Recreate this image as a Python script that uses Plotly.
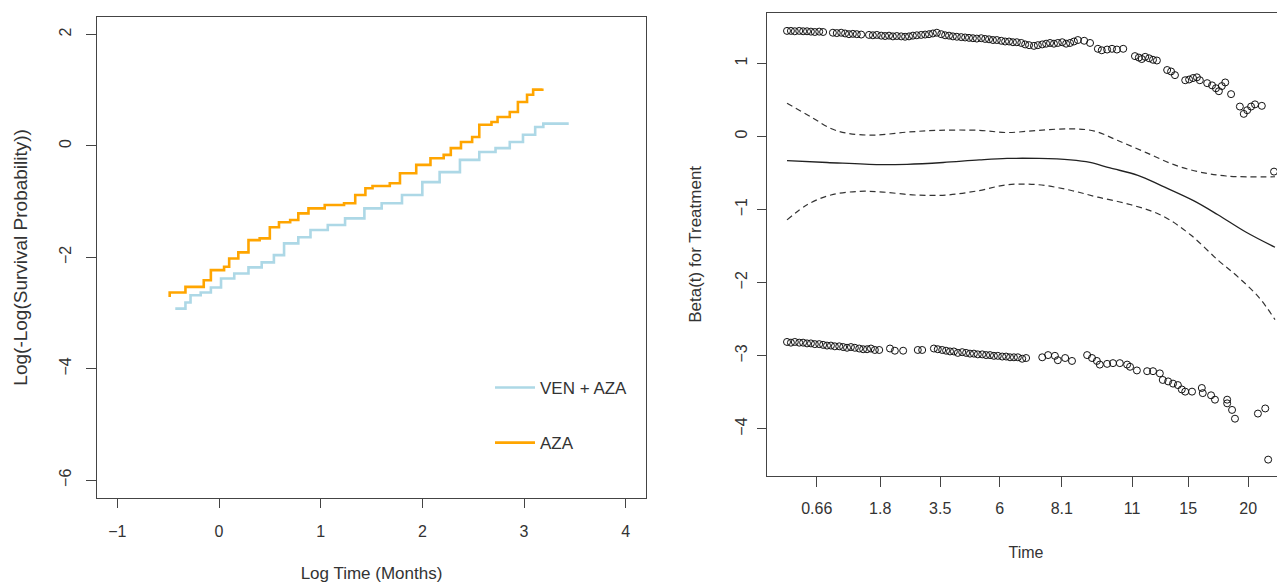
import plotly.graph_objects as go

# ---------------- Left panel: log(-log(S)) vs log time ----------------
ven_logt = [-0.43, -0.33, -0.28, -0.18, -0.08, 0.02, 0.15, 0.29, 0.42, 0.54, 0.64, 0.78, 0.90,
            1.07, 1.24, 1.43, 1.60, 1.80, 2.00, 2.17, 2.37, 2.56, 2.72, 2.86, 2.99, 3.11, 3.19, 3.44]
ven_loglog = [-2.92, -2.81, -2.68, -2.63, -2.54, -2.38, -2.29, -2.18, -2.09, -1.96, -1.75, -1.64, -1.51,
              -1.42, -1.30, -1.12, -1.03, -0.88, -0.65, -0.47, -0.25, -0.11, -0.04, 0.07, 0.20, 0.34, 0.40, 0.40]

aza_logt = [-0.485, -0.485, -0.33, -0.15, -0.08, 0.05, 0.10, 0.19, 0.29, 0.40, 0.50, 0.59, 0.70, 0.78,
            0.88, 1.04, 1.23, 1.34, 1.44, 1.51, 1.68, 1.78, 1.94, 2.08, 2.21, 2.28, 2.38, 2.49, 2.56,
            2.68, 2.74, 2.86, 2.94, 3.03, 3.09, 3.18]
aza_loglog = [-2.71, -2.63, -2.53, -2.41, -2.23, -2.17, -2.02, -1.91, -1.69, -1.66, -1.46, -1.37, -1.33, -1.21,
              -1.12, -1.06, -1.03, -0.88, -0.76, -0.72, -0.67, -0.49, -0.34, -0.22, -0.16, -0.04, 0.07, 0.16, 0.38,
              0.43, 0.52, 0.61, 0.79, 0.92, 1.01, 1.03]

left_xticks = [-1, 0, 1, 2, 3, 4]
left_yticks = [-6, -4, -2, 0, 2]

# ---------------- Right panel: Schoenfeld residuals (transformed time) ----------------
time_tick_pos = [0.061, 0.191, 0.314, 0.436, 0.563, 0.707, 0.822, 0.945]
time_tick_lab = ["0.66", "1.8", "3.5", "6", "8.1", "11", "15", "20"]
right_yticks = [-4, -3, -2, -1, 0, 1]

fit_t = [0.0, 0.082, 0.189, 0.246, 0.320, 0.394, 0.451, 0.516, 0.581, 0.621, 0.662, 0.719, 0.768,
         0.834, 0.883, 0.941, 1.0]
fit_beta = [-0.33, -0.355, -0.385, -0.38, -0.355, -0.32, -0.30, -0.30, -0.32, -0.355, -0.43, -0.53, -0.675,
            -0.88, -1.07, -1.31, -1.515]

up_t = [0.0, 0.050, 0.090, 0.123, 0.180, 0.246, 0.311, 0.393, 0.451, 0.516, 0.581, 0.630, 0.678,
        0.736, 0.793, 0.842, 0.900, 1.0]
up_beta = [0.455, 0.265, 0.11, 0.045, 0.02, 0.06, 0.085, 0.085, 0.055, 0.085, 0.105, 0.075, -0.055,
           -0.22, -0.385, -0.48, -0.54, -0.55]

lo_t = [0.0, 0.042, 0.090, 0.148, 0.197, 0.262, 0.328, 0.393, 0.451, 0.516, 0.581, 0.637, 0.703,
        0.768, 0.826, 0.883, 0.924, 0.967, 1.0]
lo_beta = [-1.14, -0.93, -0.80, -0.75, -0.76, -0.80, -0.80, -0.74, -0.66, -0.66, -0.735, -0.83, -0.93,
           -1.08, -1.34, -1.69, -1.92, -2.20, -2.505]

res_top_t = [0.000, 0.008, 0.016, 0.025, 0.033, 0.041, 0.049, 0.057, 0.066, 0.074, 0.094, 0.102, 0.111,
             0.119, 0.127, 0.135, 0.143, 0.152, 0.168, 0.176, 0.184, 0.193, 0.201, 0.209, 0.217, 0.225,
             0.234, 0.242, 0.250, 0.258, 0.266, 0.275, 0.283, 0.291, 0.299, 0.307, 0.316, 0.324, 0.332,
             0.340, 0.348, 0.357, 0.365, 0.373, 0.381, 0.389, 0.398, 0.406, 0.414, 0.422, 0.430, 0.439,
             0.447, 0.455, 0.463, 0.471, 0.480, 0.488, 0.496, 0.506, 0.514, 0.523, 0.531, 0.539, 0.547,
             0.555, 0.564, 0.572, 0.580, 0.588, 0.596, 0.609, 0.621, 0.637, 0.645, 0.656, 0.666, 0.676,
             0.689, 0.713, 0.721, 0.727, 0.734, 0.742, 0.750, 0.758, 0.779, 0.787, 0.795, 0.816, 0.824,
             0.832, 0.840, 0.846, 0.861, 0.871, 0.879, 0.885, 0.891, 0.898, 0.910, 0.928, 0.936, 0.943,
             0.951, 0.959, 0.973, 0.998]
res_top_r = [1.445, 1.445, 1.44, 1.445, 1.44, 1.44, 1.435, 1.43, 1.435, 1.43, 1.42, 1.415, 1.42,
             1.41, 1.40, 1.405, 1.40, 1.395, 1.39, 1.385, 1.39, 1.38, 1.375, 1.38, 1.37, 1.375,
             1.37, 1.365, 1.37, 1.38, 1.385, 1.39, 1.395, 1.40, 1.41, 1.42, 1.40, 1.385, 1.38,
             1.37, 1.365, 1.36, 1.355, 1.35, 1.345, 1.34, 1.345, 1.335, 1.33, 1.32, 1.32, 1.31,
             1.30, 1.30, 1.29, 1.29, 1.28, 1.26, 1.25, 1.24, 1.25, 1.26, 1.27, 1.28, 1.27,
             1.28, 1.29, 1.27, 1.28, 1.30, 1.32, 1.31, 1.28, 1.20, 1.18, 1.19, 1.20, 1.19,
             1.20, 1.10, 1.08, 1.06, 1.09, 1.07, 1.05, 1.04, 0.91, 0.89, 0.84, 0.77, 0.78,
             0.80, 0.81, 0.77, 0.73, 0.70, 0.66, 0.62, 0.69, 0.74, 0.58, 0.41, 0.31, 0.36,
             0.41, 0.44, 0.42, -0.48]

res_bot_t = [0.000, 0.008, 0.016, 0.025, 0.033, 0.041, 0.049, 0.057, 0.066, 0.074, 0.082, 0.090, 0.098,
             0.107, 0.115, 0.123, 0.131, 0.139, 0.148, 0.156, 0.164, 0.172, 0.180, 0.189, 0.211, 0.221,
             0.238, 0.268, 0.277, 0.301, 0.309, 0.318, 0.326, 0.334, 0.342, 0.350, 0.359, 0.367, 0.375,
             0.383, 0.391, 0.400, 0.408, 0.416, 0.424, 0.432, 0.441, 0.449, 0.457, 0.465, 0.473, 0.482,
             0.490, 0.523, 0.535, 0.549, 0.555, 0.570, 0.584, 0.615, 0.625, 0.635, 0.641, 0.656, 0.668,
             0.682, 0.697, 0.703, 0.717, 0.738, 0.750, 0.764, 0.770, 0.781, 0.791, 0.801, 0.809, 0.816,
             0.830, 0.850, 0.852, 0.869, 0.877, 0.902, 0.902, 0.912, 0.918, 0.965, 0.980, 0.986]
res_bot_r = [-2.81, -2.82, -2.81, -2.82, -2.82, -2.83, -2.83, -2.84, -2.84, -2.85, -2.86, -2.86, -2.87,
             -2.87, -2.88, -2.89, -2.88, -2.89, -2.90, -2.91, -2.91, -2.90, -2.92, -2.92, -2.90, -2.93,
             -2.93, -2.92, -2.92, -2.90, -2.91, -2.92, -2.93, -2.94, -2.94, -2.96, -2.95, -2.96, -2.97,
             -2.97, -2.98, -2.98, -2.99, -2.99, -3.00, -3.00, -3.01, -3.01, -3.02, -3.02, -3.02, -3.04,
             -3.03, -3.02, -2.99, -3.00, -3.06, -3.03, -3.07, -2.99, -3.03, -3.07, -3.12, -3.11, -3.10,
             -3.10, -3.12, -3.15, -3.20, -3.21, -3.21, -3.24, -3.33, -3.35, -3.38, -3.40, -3.46, -3.49,
             -3.49, -3.44, -3.51, -3.54, -3.60, -3.60, -3.65, -3.74, -3.86, -3.79, -3.72, -4.42]

FONT = "Liberation Sans, Arial, sans-serif"
TXT = "#333333"
AX = "#444444"

# The page body has an 8px margin, so the figure is sized to the visible area
W, H = 1277, 575
OFF = 8

fig = go.Figure()

fig.add_trace(go.Scatter(x=ven_logt, y=ven_loglog, mode="lines", line=dict(color="#ADD8E6", width=2.6, shape="hv"),
                         name="VEN + AZA", legendgroup="a", xaxis="x", yaxis="y"))
fig.add_trace(go.Scatter(x=aza_logt, y=aza_loglog, mode="lines", line=dict(color="#FFA500", width=2.6, shape="hv"),
                         name="AZA", legendgroup="b", xaxis="x", yaxis="y"))

fig.add_trace(go.Scatter(x=res_top_t + res_bot_t, y=res_top_r + res_bot_r, mode="markers",
                         marker=dict(symbol="circle-open", size=7, color="#111111", line=dict(width=1)),
                         showlegend=False, xaxis="x2", yaxis="y2"))
fig.add_trace(go.Scatter(x=fit_t, y=fit_beta, mode="lines", line=dict(color="#222222", width=1.3, shape="spline"),
                         showlegend=False, xaxis="x2", yaxis="y2"))
fig.add_trace(go.Scatter(x=up_t, y=up_beta, mode="lines",
                         line=dict(color="#333333", width=1.2, dash="6px,4px", shape="spline"),
                         showlegend=False, xaxis="x2", yaxis="y2"))
fig.add_trace(go.Scatter(x=lo_t, y=lo_beta, mode="lines",
                         line=dict(color="#333333", width=1.2, dash="6px,4px", shape="spline"),
                         showlegend=False, xaxis="x2", yaxis="y2"))

common = dict(showgrid=False, zeroline=False, showline=True, linecolor=AX, linewidth=1.3, mirror=True,
              ticks="outside", tickcolor=AX, tickwidth=1.3, tickfont=dict(family=FONT, size=16, color=TXT))


def dx(a, b):
    return [(a - OFF) / W, min(1.0, (b - OFF) / W)]


def dy(top, bottom):
    return [(H - (bottom - OFF)) / H, (H - (top - OFF)) / H]


fig.update_layout(
    width=W, height=H,
    margin=dict(l=0, r=0, t=0, b=0),
    paper_bgcolor="white", plot_bgcolor="white",
    font=dict(family=FONT, color=TXT),
    xaxis=dict(domain=dx(97, 646), range=[-1.2, 4.2], tickmode="array", tickvals=left_xticks,
               ticklen=9, ticklabelstandoff=10, anchor="y",
               title=dict(text="Log Time (Months)", font=dict(family=FONT, size=17, color=TXT), standoff=30),
               **common),
    yaxis=dict(domain=dy(16.7, 498), range=[-6.32, 2.32], tickmode="array", tickvals=left_yticks,
               ticklen=10, tickangle=-90, ticklabelstandoff=8, anchor="x",
               title=dict(text="Log(-Log(Survival Probability))", font=dict(family=FONT, size=19, color=TXT), standoff=24),
               **common),
    xaxis2=dict(domain=dx(767, 1290), range=[-0.041, 1.0205], tickmode="array", tickvals=time_tick_pos,
                ticktext=time_tick_lab, ticklen=10, ticklabelstandoff=8, anchor="y2",
                title=dict(text="Time", font=dict(family=FONT, size=16, color=TXT), standoff=30),
                **common),
    yaxis2=dict(domain=dy(12.7, 476), range=[-4.644, 1.694], tickmode="array", tickvals=right_yticks,
                ticklen=9, tickangle=-90, ticklabelstandoff=3, anchor="x2",
                title=dict(text="Beta(t) for Treatment", font=dict(family=FONT, size=17, color=TXT), standoff=27),
                **common),
    legend=dict(x=(490 - OFF) / W, y=(H - (370 - OFF)) / H, xanchor="left", yanchor="top", bgcolor="rgba(0,0,0,0)",
                font=dict(family=FONT, size=17, color=TXT), tracegroupgap=30, itemwidth=40),
    showlegend=True,
)

fig.write_html("out.html")
